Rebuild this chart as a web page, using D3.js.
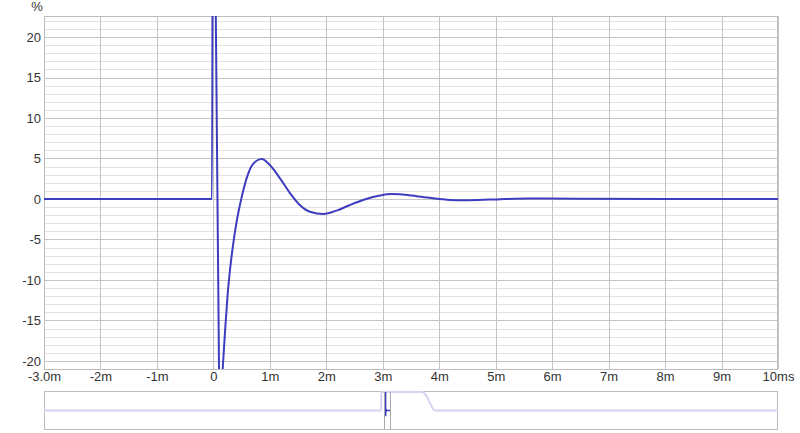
<!DOCTYPE html>
<html><head><meta charset="utf-8">
<script src="https://cdn.jsdelivr.net/npm/d3@7"></script>
<style>
body{margin:0;background:#fff;}
svg text{font-family:"Liberation Sans",Arial,sans-serif;font-size:13px;fill:#333;}
</style></head>
<body><svg id="c" width="800" height="433"></svg>
<script>
// ---- data ----
const xTicks = [-3,-2,-1,0,1,2,3,4,5,6,7,8,9,10];
const xTickLabels = ["-3.0m","-2m","-1m","0","1m","2m","3m","4m","5m","6m","7m","8m","9m","10ms"];
const yTicks = [-20,-15,-10,-5,0,5,10,15,20];
const yTickLabels = ["-20","-15","-10","-5","0","5","10","15","20"];
const yUnit = "%";
// impulse response (time in ms, amplitude in %)
const timeMs = [-3,-0.04,-0.025,0,0.02,0.1,0.13,0.165,0.205,0.25,0.3,0.35,0.4,0.45,0.5,0.6,0.7,0.855,1.0,1.18,1.36,1.53,1.71,1.95,2.18,2.4,2.65,2.95,3.15,3.6,4.01,4.3,4.7,5.02,5.6,6.5,8,10];
const amplitude = [0,0,0,80,40,-21,-25,-21,-16.5,-12.0,-8.4,-5.6,-3.3,-1.4,0.2,2.8,4.3,4.94,4.2,2.55,0.7,-0.74,-1.57,-1.85,-1.44,-0.8,-0.12,0.43,0.6,0.35,0,-0.15,-0.12,-0.05,0.05,0.02,0,0];
// overview window (time in ms, normalized)
const windowTime = [-740,-9.6,-9.4,79,84,90,96,102,106,850];
const windowValue = [0,0,1,1,0.93,0.72,0.4,0.12,0,0];

// ---- layout ----
const svg = d3.select("#c");
const L=44,R=778,T=16,B=369;
const x = d3.scaleLinear().domain([-3,10]).range([L,R]);
const y = d3.scaleLinear().domain([-21,22.6]).range([B,T]);

const g = svg.append("g");
// minor horizontal grid
g.append("g").selectAll("line").data(d3.range(-21,23).filter(v=>v%5!==0)).join("line")
 .attr("x1",L).attr("x2",R).attr("y1",d=>Math.round(y(d))+0.5).attr("y2",d=>Math.round(y(d))+0.5)
 .attr("stroke","#e2e2e2").attr("stroke-width",1);
// major horizontal grid
g.append("g").selectAll("line").data(yTicks).join("line")
 .attr("x1",L).attr("x2",R).attr("y1",d=>Math.round(y(d))+0.5).attr("y2",d=>Math.round(y(d))+0.5)
 .attr("stroke","#c4c4c4").attr("stroke-width",1);
// vertical grid
g.append("g").selectAll("line").data(xTicks).join("line")
 .attr("y1",T).attr("y2",B).attr("x1",d=>Math.round(x(d))+0.5).attr("x2",d=>Math.round(x(d))+0.5)
 .attr("stroke","#c4c4c4").attr("stroke-width",1);
// frame
svg.append("rect").attr("x",L+0.5).attr("y",T+0.5).attr("width",R-L-1).attr("height",B-T)
 .attr("fill","none").attr("stroke","#bdbdbd");

// axes
const ya = svg.append("g").attr("transform",`translate(${L},0)`)
 .call(d3.axisLeft(y).tickValues(yTicks).tickSize(0).tickPadding(3).tickFormat((d,i)=>yTickLabels[i]));
ya.select(".domain").remove();
ya.selectAll("text").style("font-family","Liberation Sans, Arial, sans-serif").style("font-size","13px").attr("fill","#333");
const xa = svg.append("g").attr("transform",`translate(0,${B})`)
 .call(d3.axisBottom(x).tickValues(xTicks).tickSize(0).tickPadding(3).tickFormat((d,i)=>xTickLabels[i]));
xa.select(".domain").remove();
xa.selectAll("text").style("font-family","Liberation Sans, Arial, sans-serif").style("font-size","13px").attr("fill","#333");
svg.append("text").attr("x",37).attr("y",11).attr("text-anchor","middle").text(yUnit);

// curve
svg.append("clipPath").attr("id","clip").append("rect").attr("x",L).attr("y",T).attr("width",R-L).attr("height",B-T);
const pts = timeMs.map((t,i)=>[t,amplitude[i]]);
svg.append("path").datum(pts).attr("clip-path","url(#clip)")
 .attr("d",d3.line().x(d=>x(d[0])).y(d=>y(d[1])).curve(d3.curveMonotoneX))
 .attr("fill","none").attr("stroke","#3d3dbf").attr("stroke-width",2);

// ---- overview ----
const oT=391,oB=429;
const ox = d3.scaleLinear().domain([-740,850]).range([L,R]);
const oy = d3.scaleLinear().domain([-1,1]).range([oB,oT+1]);
svg.append("rect").attr("x",L+0.5).attr("y",oT+0.5).attr("width",R-L-1).attr("height",oB-oT)
 .attr("fill","none").attr("stroke","#bdbdbd");
svg.append("path").datum(windowTime.map((t,i)=>[t,windowValue[i]]))
 .attr("d",d3.line().x(d=>ox(d[0])).y(d=>oy(d[1])).curve(d3.curveMonotoneX))
 .attr("fill","none").attr("stroke","#d4d4f2").attr("stroke-width",2);
const peak = d3.max(amplitude);
svg.append("path").datum(pts.map(d=>[d[0],d[1]/peak]))
 .attr("d",d3.line().x(d=>ox(d[0])).y(d=>oy(d[1])))
 .attr("fill","none").attr("stroke","#3d3dbf").attr("stroke-width",1.5);
svg.append("g").selectAll("line").data([-3,10]).join("line")
 .attr("x1",d=>Math.round(ox(d))+0.5).attr("x2",d=>Math.round(ox(d))+0.5)
 .attr("y1",oT+1).attr("y2",oB).attr("stroke","#aaaaaa");
</script></body></html>
